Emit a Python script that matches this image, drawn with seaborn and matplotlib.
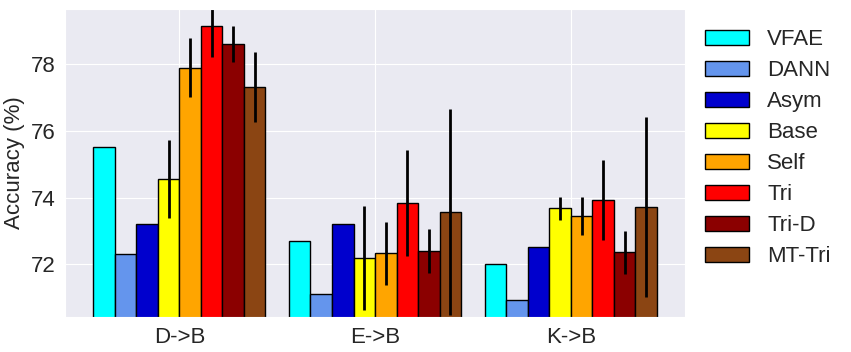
import numpy as np
import pandas as pd
import seaborn as sns
import matplotlib
matplotlib.use("Agg")
import matplotlib.pyplot as plt

tasks = ["D->B", "E->B", "K->B"]
methods = ["VFAE", "DANN", "Asym", "Base", "Self", "Tri", "Tri-D", "MT-Tri"]
colors = ["cyan", "cornflowerblue", "mediumblue", "yellow", "orange", "red", "darkred", "saddlebrown"]

# accuracy per method, one value per task (D->B, E->B, K->B)
acc_vfae = [75.52, 72.70, 72.00]
acc_dann = [72.30, 71.10, 70.92]
acc_asym = [73.20, 73.20, 72.52]
acc_base = [74.56, 72.18, 73.68]
acc_self = [77.90, 72.33, 73.45]
acc_tri = [79.16, 73.84, 73.93]
acc_trid = [78.61, 72.40, 72.36]
acc_mttri = [77.32, 73.57, 73.72]

# std deviation (no error bars for the first three methods)
err_base = [1.18, 1.56, 0.34]
err_self = [0.88, 0.95, 0.57]
err_tri = [0.95, 1.60, 1.20]
err_trid = [0.55, 0.65, 0.64]
err_mttri = [1.06, 3.08, 2.69]

accs = [acc_vfae, acc_dann, acc_asym, acc_base, acc_self, acc_tri, acc_trid, acc_mttri]
errs = [None, None, None, err_base, err_self, err_tri, err_trid, err_mttri]

rows = []
for m, a in zip(methods, accs):
    for t, v in zip(tasks, a):
        rows.append({"task": t, "method": m, "acc": v})
df = pd.DataFrame(rows)

sns.set_style("darkgrid")
plt.rcParams['font.family'] = ['Liberation Sans', 'DejaVu Sans']

fig = plt.figure(figsize=(8.51, 3.52), dpi=100)
ax = fig.add_axes([0.0764, 0.0994, 0.7286, 0.8746])

sns.barplot(data=df, x="task", y="acc", hue="method", hue_order=methods,
            palette=colors, width=0.88, gap=0, edgecolor="black", linewidth=1,
            saturation=1, errorbar=None, ax=ax)

# error bars on top of the bars
for cont, e in zip(ax.containers, errs):
    if e is None:
        continue
    xs = [p.get_x() + p.get_width() / 2 for p in cont]
    ys = [p.get_height() for p in cont]
    ax.errorbar(xs, ys, yerr=e, fmt="none", ecolor="black", elinewidth=2, capsize=0)

vals = df["acc"].values
ax.set_ylim(vals.min() - 0.5, vals.max() + 0.5)
ax.set_xlim(-0.584, 2.584)
ax.xaxis.grid(True)
ax.set_axisbelow(True)
ax.set_xlabel("")
ax.set_ylabel("Accuracy (%)", fontsize=16)
ax.tick_params(axis="both", labelsize=16)

ax.legend(loc="upper left", bbox_to_anchor=(1.0, 1.0), frameon=False,
          fontsize=16, handlelength=2.0, labelspacing=0.45)

fig.savefig("out.png", dpi=100)
